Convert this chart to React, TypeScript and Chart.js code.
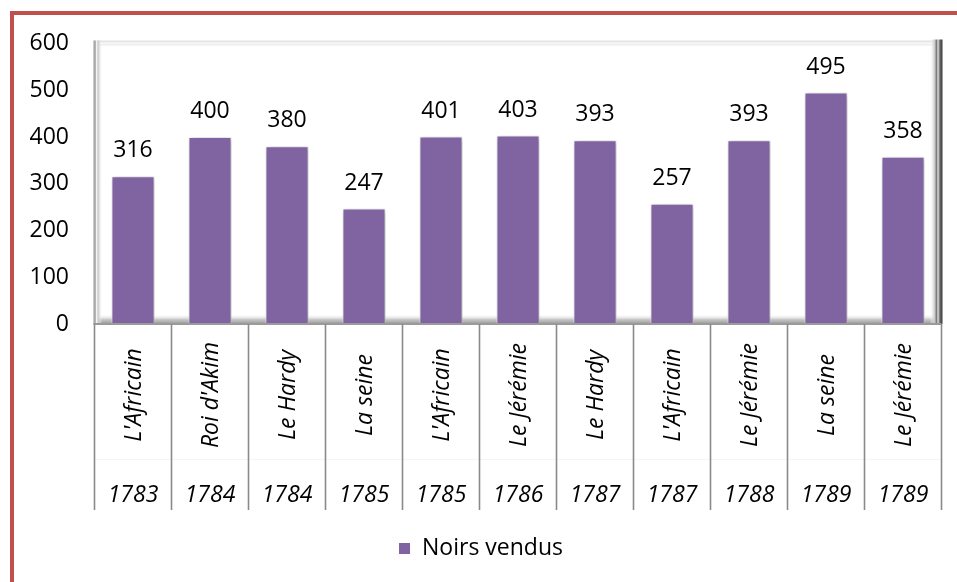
import React, { useEffect, useRef } from "react";
import { Chart, registerables } from "chart.js";

Chart.register(...registerables);

const ships = ["L'Africain", "Roi d'Akim", "Le Hardy", "La seine", "L'Africain", "Le Jérémie", "Le Hardy", "L'Africain", "Le Jérémie", "La seine", "Le Jérémie"];
const years = ["1783", "1784", "1784", "1785", "1785", "1786", "1787", "1787", "1788", "1789", "1789"];
const noirsVendus = [316, 400, 380, 247, 401, 403, 393, 257, 393, 495, 358];
const yMin = 0;
const yMax = 600;
const yStep = 100;
const seriesName = "Noirs vendus";

const FONT = "'Open Sans', 'Liberation Sans', 'DejaVu Sans', sans-serif";
const FS = 23;
const PURPLE = "#8064a2";
const RED = "#c0504d";

const framePlugin = {
  id: "frame",
  beforeDraw(chart: any) {
    const ctx = chart.ctx;
    const { left, right, top, bottom } = chart.chartArea;
    ctx.save();
    ctx.fillStyle = "#ffffff";
    ctx.fillRect(0, 0, chart.width, chart.height);
    // outer red frame
    ctx.fillStyle = RED;
    ctx.fillRect(10, 11, chart.width, 4);
    ctx.fillRect(10, 11, 4, chart.height);

    // floor band
    const g = ctx.createLinearGradient(0, bottom - 10, 0, bottom);
    g.addColorStop(0, "rgba(255,255,255,0)");
    g.addColorStop(0.55, "rgba(200,200,200,1)");
    g.addColorStop(1, "rgba(150,150,150,1)");
    ctx.fillStyle = g;
    ctx.fillRect(left + 4, bottom - 10, right - left - 10, 10);

    // top edges
    ctx.fillStyle = "#e4e4e4";
    ctx.fillRect(left, top - 3, right - left - 2, 2);
    ctx.fillStyle = "#eeeeee";
    ctx.fillRect(left + 4, top, right - left - 12, 2);

    // left wall
    const gl = ctx.createLinearGradient(left - 1, 0, left + 8, 0);
    gl.addColorStop(0, "#9a9a9a");
    gl.addColorStop(0.25, "#b8b8b8");
    gl.addColorStop(0.35, "#ffffff");
    gl.addColorStop(0.5, "#c4c4c4");
    gl.addColorStop(1, "rgba(255,255,255,0)");
    ctx.fillStyle = gl;
    ctx.fillRect(left - 1, top - 3, 9, bottom - top + 3);

    // right wall shadow
    const gr = ctx.createLinearGradient(right - 12, 0, right + 1, 0);
    gr.addColorStop(0, "rgba(255,255,255,0)");
    gr.addColorStop(0.4, "#c8c8c8");
    gr.addColorStop(0.55, "#777777");
    gr.addColorStop(0.65, "#e0e0e0");
    gr.addColorStop(0.8, "#6a6a6a");
    gr.addColorStop(1, "#3a3a3a");
    ctx.fillStyle = gr;
    ctx.fillRect(right - 12, top - 4, 13, bottom - top + 4);
    ctx.restore();
  },
  beforeDatasetsDraw(chart: any) {
    const ctx = chart.ctx;
    ctx.save();
    ctx.shadowColor = "rgba(0,0,0,0.32)";
    ctx.shadowBlur = 6;
    ctx.shadowOffsetX = 1.5;
    ctx.shadowOffsetY = 1;
  },
  afterDatasetsDraw(chart: any) {
    const ctx = chart.ctx;
    ctx.restore();
    const meta = chart.getDatasetMeta(0);
    ctx.save();
    ctx.fillStyle = "#000";
    ctx.font = `${FS}px ${FONT}`;
    ctx.textAlign = "center";
    ctx.textBaseline = "alphabetic";
    meta.data.forEach((bar: any, i: number) => {
      ctx.fillText(String(noirsVendus[i]), bar.x, bar.y - 19);
    });
    ctx.restore();
  },
  afterDraw(chart: any) {
    const ctx = chart.ctx;
    const xs = chart.scales.x;
    const { left, right, bottom } = chart.chartArea;
    ctx.save();
    // axis line
    ctx.strokeStyle = "#9a9a9a";
    ctx.lineWidth = 2;
    ctx.beginPath();
    ctx.moveTo(left - 1, bottom);
    ctx.lineTo(right, bottom);
    ctx.stroke();
    // faint row separator
    ctx.strokeStyle = "#f5f5f5";
    ctx.lineWidth = 1;
    ctx.beginPath();
    ctx.moveTo(left, 459.5);
    ctx.lineTo(right, 459.5);
    ctx.stroke();
    // dividers
    ctx.strokeStyle = "#8a8a8a";
    ctx.lineWidth = 1.6;
    for (let i = 0; i <= ships.length; i++) {
      const x = xs.getPixelForValue(i - 0.5);
      ctx.beginPath();
      ctx.moveTo(x, bottom);
      ctx.lineTo(x, 510);
      ctx.stroke();
    }
    // labels
    ctx.fillStyle = "#000";
    ctx.font = `italic ${FS}px ${FONT}`;
    ships.forEach((name, i) => {
      const cx = xs.getPixelForValue(i);
      ctx.save();
      ctx.translate(cx + 1, 395);
      ctx.rotate(-Math.PI / 2);
      ctx.textAlign = "center";
      ctx.textBaseline = "middle";
      ctx.fillText(name, 0, 0);
      ctx.restore();
      ctx.textAlign = "center";
      ctx.textBaseline = "alphabetic";
      ctx.fillText(years[i], cx, 502);
    });
    ctx.restore();
  },
};

export default function App() {
  const ref = useRef<HTMLCanvasElement>(null);
  useEffect(() => {
    if (!ref.current) return;
    const chart = new Chart(ref.current, {
      type: "bar",
      data: {
        labels: ships.map((s, i) => `${s} ${years[i]}`),
        datasets: [
          {
            label: seriesName,
            data: noirsVendus,
            backgroundColor: PURPLE,
            borderColor: "#ffffff",
            borderWidth: 1,
            barPercentage: 0.56,
            categoryPercentage: 1,
          },
        ],
      },
      options: {
        responsive: false,
        animation: false,
        layout: { padding: { left: 20, right: 15.5, top: 43.5, bottom: 12 } },
        plugins: {
          legend: {
            position: "bottom",
            labels: {
              color: "#000",
              font: { family: FONT, size: FS },
              boxWidth: 12,
              boxHeight: 12,
              padding: 10,
            },
          },
          tooltip: { enabled: false },
        },
        scales: {
          x: {
            grid: { display: false },
            border: { display: false },
            ticks: { display: false },
            afterFit: (s: any) => {
              s.height = 203;
            },
          },
          y: {
            min: yMin,
            max: yMax,
            grid: { display: false, drawTicks: false },
            border: { display: false },
            ticks: {
              stepSize: yStep,
              padding: 25.5,
              color: "#000",
              font: { family: FONT, size: FS },
            },
            afterFit: (s: any) => {
              s.width = 74.5;
            },
          },
        },
      },
      plugins: [framePlugin],
    });
    return () => chart.destroy();
  }, []);
  return (
    <div style={{ position: "fixed", left: 0, top: 0, width: 957, height: 582 }}>
      <canvas ref={ref} width={957} height={582} style={{ display: "block" }} />
    </div>
  );
}
